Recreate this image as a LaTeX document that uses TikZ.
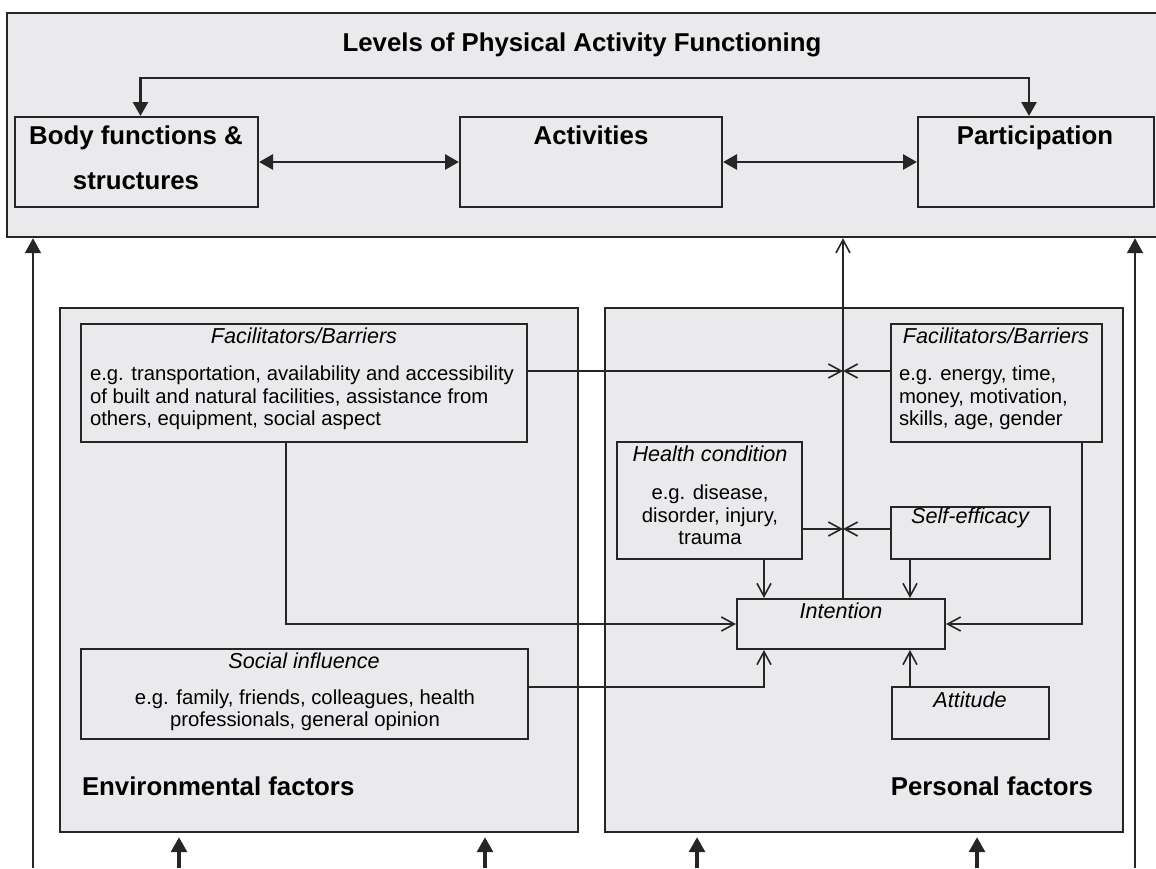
\documentclass[tikz,border=0pt]{standalone}
\usepackage{fontspec}
\setmainfont{Liberation Sans}
\usetikzlibrary{arrows.meta,fit}
\definecolor{panel}{HTML}{EAEAEC}
\definecolor{ink}{HTML}{262626}

\tikzset{every picture/.style={line width=1pt}}
\tikzset{
  panelbox/.style={draw=ink, fill=panel, inner sep=0pt, line width=1.2pt},
  factbox/.style={draw=ink, fill=panel, inner sep=0pt, line width=1pt},
  headfont/.style={font=\fontsize{12.9}{22.5}\selectfont\bfseries, inner sep=0.5pt},
  headital/.style={font=\fontsize{10.8}{11.25}\selectfont\itshape, inner sep=0.5pt},
  smalltxt/.style={font=\fontsize{10.15}{11.25}\selectfont, inner sep=0.5pt},
  fat/.style={draw=ink, line width=1.6pt, -{Triangle[length=7.5pt,width=8pt]}},
  fatboth/.style={draw=ink, line width=1.4pt, {Triangle[length=7pt,width=7.5pt]}-{Triangle[length=7pt,width=7.5pt]}},
  link/.style={draw=ink, line width=0.8pt, -{Straight Barb[length=6.5pt,width=7pt]}},
}

\begin{document}
\begin{tikzpicture}[x=0.5pt,y=0.5pt,yscale=-1,xscale=1]
\useasboundingbox (0,0) rectangle (1156,868);

% levels panel
\node[panelbox, fit={(7,13) (1164,237)}] (lvl) {};
\node[headfont] (lvltitle) at (582,45) {Levels of Physical Activity Functioning};

\node[factbox, fit={(15,117) (258,207)}] (body) {};
\node[factbox, fit={(460,117) (722,207)}] (act) {};
\node[factbox, fit={(918,117) (1154,207)}] (part) {};
\node[headfont, align=center] (bodylbl) at (136,158) {Body functions \&\\structures};
\node[headfont, anchor=base] (actlbl) at (591,144) {Activities};
\node[headfont, anchor=base] (partlbl) at (1035,144) {Participation};

\coordinate (topbar) at (584,78);
\draw[fatboth] ([xshift=2pt]body.north) |- (topbar) -| ([xshift=-3.5pt]part.north);
\draw[fatboth] (body.east) -- (act.west);
\draw[fatboth] (act.east) -- (part.west);

% factor panels
\node[panelbox, fit={(60,308) (578,832)}] (env) {};
\node[panelbox, fit={(605,308) (1123,832)}] (pers) {};

\node[factbox, fit={(81,324) (527,442)}] (envfac) {};
\node[factbox, fit={(891,324) (1102,442)}] (persfac) {};
\node[factbox, fit={(617,442) (802,559)}] (health) {};
\node[factbox, fit={(891,507) (1050,559)}] (selfeff) {};
\node[factbox, fit={(737,599) (945,649)}] (intent) {};
\node[factbox, fit={(892,687) (1049,739)}] (att) {};
\node[factbox, fit={(81,649) (528,739)}] (social) {};

\node[headital] (envfachd) at (304,336) {Facilitators/Barriers};
\node[smalltxt, anchor=west, align=left] (envfactx) at (88,398) {e.g. transportation, availability and accessibility\\of built and natural facilities, assistance from\\others, equipment, social aspect};
\node[headital] (persfachd) at (996,336) {Facilitators/Barriers};
\node[smalltxt, anchor=west, align=left] (persfactx) at (897,398) {e.g. energy, time,\\money, motivation,\\skills, age, gender};
\node[headital] (healthhd) at (710,454) {Health condition};
\node[smalltxt, align=center] (healthtx) at (710,515) {e.g. disease,\\disorder, injury,\\trauma};
\node[headital] (selfeffhd) at (970,518) {Self-efficacy};
\node[headital] (intenthd) at (841,611) {Intention};
\node[headital] (atthd) at (970,700) {Attitude};
\node[headital] (socialhd) at (304,661) {Social influence};
\node[smalltxt, align=center] (socialtx) at (305,710) {e.g. family, friends, colleagues, health\\professionals, general opinion};
\node[headfont, anchor=west] (envlbl) at (80,786) {Environmental factors};
\node[headfont, anchor=east] (perslbl) at (1095,786) {Personal factors};

% links into intention
\coordinate (xa) at (843,371);
\coordinate (xb) at (843,529);
\draw[link] (envfac.east |- xa) -- (xa);
\draw[link] (persfac.west |- xa) -- (xa);
\draw[link] (health.east |- xb) -- (xb);
\draw[link] (selfeff.west |- xb) -- (xb);
\draw[link] (intent.north -| xa) -- (lvl.south -| xa);
\draw[link] (health.south -| 764,0) -- (intent.north -| 764,0);
\draw[link] (selfeff.south -| 910,0) -- (intent.north -| 910,0);
\draw[link] (envfac.south -| 286,0) |- (intent.west);
\draw[link] (persfac.south -| 1082,0) |- (intent.east);
\draw[link] (social.east |- 0,687) -| (intent.south -| 764,0);
\draw[link] (att.north -| 910,0) -- (intent.south -| 910,0);

% arrows from below
\foreach \px/\nm in {33/ol, 1135/or} {
  \coordinate (\nm) at (\px,868);
  \draw[fat, line width=1pt] (\nm) -- (lvl.south -| \nm);
}
\foreach \px/\tgt in {179/env, 485/env, 697/pers, 977/pers} {
  \coordinate (b\px) at (\px,868);
  \draw[fat, shorten >=2pt] (b\px) -- (\tgt.south -| b\px);
}

\end{tikzpicture}
\end{document}
